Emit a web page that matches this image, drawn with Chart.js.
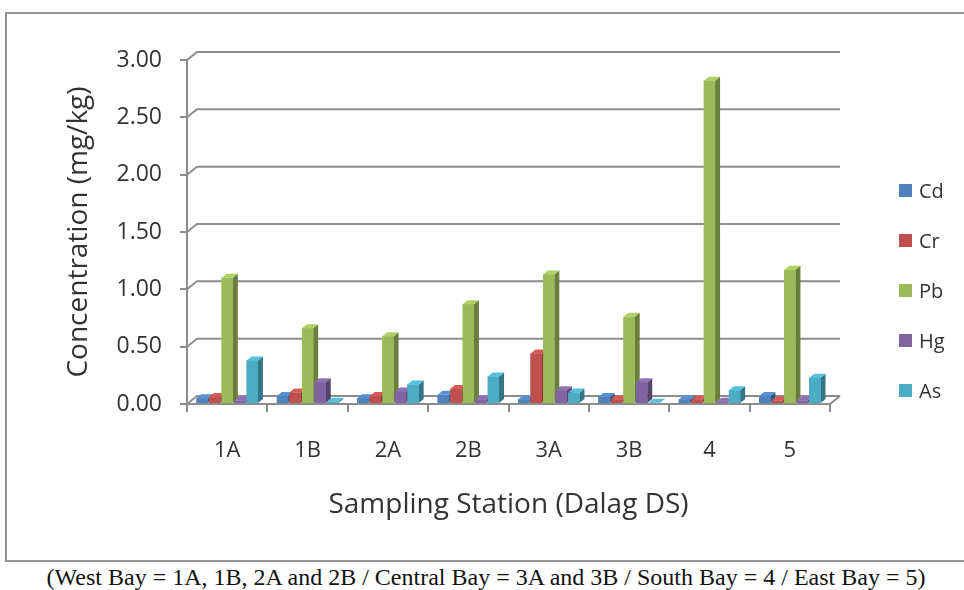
<!DOCTYPE html>
<html>
<head>
<meta charset="utf-8">
<script src="https://cdn.jsdelivr.net/npm/chart.js@4.4.0/dist/chart.umd.min.js"></script>
<style>
  html, body { margin: 0; padding: 0; background: #fff; width: 964px; height: 590px; overflow: hidden; }
  #frame { position: absolute; left: 5px; top: 12px; width: 975px; height: 550px; border: 2px solid #939393; box-sizing: border-box; }
  #wrap { position: absolute; left: 0; top: 0; width: 964px; height: 560px; }
  #legend { position: absolute; left: 899px; top: 165px; font-family: "Open Sans", sans-serif; font-size: 20px; color: #333; }
  #legend .item { height: 50px; display: flex; align-items: center; }
  #legend .swatch { width: 13px; height: 13px; margin-right: 7px; }
  #caption { position: absolute; left: 4px; width: 964px; top: 564px; text-align: center; font-family: "Liberation Serif", serif; font-size: 24px; color: #111; white-space: nowrap; }
</style>
</head>
<body>
<div id="frame"></div>
<div id="wrap"><canvas id="metals-chart"></canvas></div>
<div id="legend"></div>
<div id="caption">(West Bay = 1A, 1B, 2A and 2B / Central Bay = 3A and 3B / South Bay = 4 / East Bay = 5)</div>
<script>
// heavy metal concentrations (mg/kg) per sampling station
const stations = ["1A", "1B", "2A", "2B", "3A", "3B", "4", "5"];
const metals   = ["Cd", "Cr", "Pb", "Hg", "As"];
const cd = [0.05, 0.07, 0.05, 0.08, 0.04, 0.06, 0.04, 0.07];
const cr = [0.06, 0.10, 0.07, 0.13, 0.44, 0.04, 0.04, 0.03];
const pb = [1.10, 0.66, 0.59, 0.87, 1.13, 0.76, 2.82, 1.17];
const hg = [0.03, 0.19, 0.11, 0.04, 0.12, 0.19, 0.02, 0.03];
const as = [0.38, 0.02, 0.17, 0.24, 0.10, 0.01, 0.12, 0.23];
const yTicks = [0, 0.5, 1, 1.5, 2, 2.5, 3];

const colors = ["#4f81bd", "#c0504d", "#9bbb59", "#8064a2", "#4bacc6"];
const series = [cd, cr, pb, hg, as];
const FONT = "'Open Sans', sans-serif";
const TEXT = "#333";
const LINE = "#8c8c8c";

// depth of the back wall and of each column, to fake Excel's 3-D look
const WALL = { dx: 10, dy: -8 };
const BAR  = { dx: 5, dy: -4 };

function shade(hex, f) {
    const n = parseInt(hex.slice(1), 16);
    const c = [(n >> 16) & 255, (n >> 8) & 255, n & 255].map(v => Math.max(0, Math.min(255, Math.round(v * f))));
    return `rgb(${c[0]}, ${c[1]}, ${c[2]})`;
}

const fake3d = {
    id: "fake3d",
    beforeDatasetsDraw(chart) {
        const { ctx, chartArea: a, scales: { y } } = chart;
        ctx.save();
        ctx.strokeStyle = LINE;
        ctx.lineWidth = 2;
        yTicks.forEach(v => {
            const py = y.getPixelForValue(v);
            ctx.beginPath();
            ctx.moveTo(a.left, py);
            ctx.lineTo(a.left + WALL.dx, py + WALL.dy);
            ctx.lineTo(a.right + WALL.dx, py + WALL.dy);
            ctx.stroke();
        });
        ctx.beginPath();
        ctx.moveTo(a.right, a.bottom);
        ctx.lineTo(a.right + WALL.dx, a.bottom + WALL.dy);
        ctx.stroke();
        ctx.restore();
    },
    afterDatasetsDraw(chart) {
        const ctx = chart.ctx;
        ctx.save();
        // left to right so each column hides the side of the one before it
        chart.data.datasets.forEach((ds, i) => {
            const meta = chart.getDatasetMeta(i);
            meta.data.forEach(bar => {
                const x0 = bar.x - bar.width / 2, x1 = bar.x + bar.width / 2;
                const top = bar.y, base = bar.base;
                ctx.fillStyle = shade(ds.backgroundColor, 0.68);
                ctx.beginPath();
                ctx.moveTo(x1, top);
                ctx.lineTo(x1 + BAR.dx, top + BAR.dy);
                ctx.lineTo(x1 + BAR.dx, base + BAR.dy);
                ctx.lineTo(x1, base);
                ctx.closePath();
                ctx.fill();
                ctx.fillStyle = shade(ds.backgroundColor, 1.12);
                ctx.beginPath();
                ctx.moveTo(x0, top);
                ctx.lineTo(x0 + BAR.dx, top + BAR.dy);
                ctx.lineTo(x1 + BAR.dx, top + BAR.dy);
                ctx.lineTo(x1, top);
                ctx.closePath();
                ctx.fill();
                ctx.fillStyle = ds.backgroundColor;
                ctx.fillRect(x0, top, x1 - x0, base - top);
            });
        });
        ctx.restore();
    },
};

const chart = new Chart(document.getElementById("metals-chart"), {
    type: "bar",
    data: {
        labels: stations,
        datasets: metals.map((m, i) => ({
            label: m,
            data: series[i],
            backgroundColor: colors[i],
            borderWidth: 0,
            categoryPercentage: 0.78,
            barPercentage: 0.9,
        })),
    },
    options: {
        responsive: true,
        maintainAspectRatio: false,
        animation: false,
        layout: { padding: { left: 60, top: 60, right: 134, bottom: 34 } },
        plugins: {
            legend: { display: false },
            tooltip: { enabled: false },
        },
        scales: {
            x: {
                grid: { drawOnChartArea: false, offset: true, tickLength: 8, color: LINE, lineWidth: 2 },
                border: { color: LINE, width: 2 },
                ticks: { padding: 26, color: TEXT, font: { family: FONT, size: 22 } },
                title: {
                    display: true,
                    text: "Sampling Station (Dalag DS)",
                    color: TEXT,
                    font: { family: FONT, size: 28 },
                    padding: { top: 0, bottom: 4 },
                },
                afterFit: s => { s.height = 122; },
            },
            y: {
                min: 0,
                max: 3,
                grid: { drawOnChartArea: false, tickLength: 7, color: LINE, lineWidth: 2 },
                border: { color: LINE, width: 2 },
                ticks: {
                    stepSize: 0.5,
                    padding: 18,
                    color: TEXT,
                    font: { family: FONT, size: 23 },
                    callback: v => Number(v).toFixed(2),
                },
                title: {
                    display: true,
                    text: "Concentration (mg/kg)",
                    color: TEXT,
                    font: { family: FONT, size: 28 },
                    padding: { top: 2, bottom: 4 },
                },
                afterFit: s => { s.width = 127; },
            },
        },
    },
    plugins: [fake3d],
});

// legend on the right, built from the datasets
const legend = document.getElementById("legend");
chart.data.datasets.forEach(ds => {
    const item = document.createElement("div");
    item.className = "item";
    const sw = document.createElement("span");
    sw.className = "swatch";
    sw.style.background = ds.backgroundColor;
    const txt = document.createElement("span");
    txt.textContent = ds.label;
    item.appendChild(sw);
    item.appendChild(txt);
    legend.appendChild(item);
});
</script>
</body>
</html>
